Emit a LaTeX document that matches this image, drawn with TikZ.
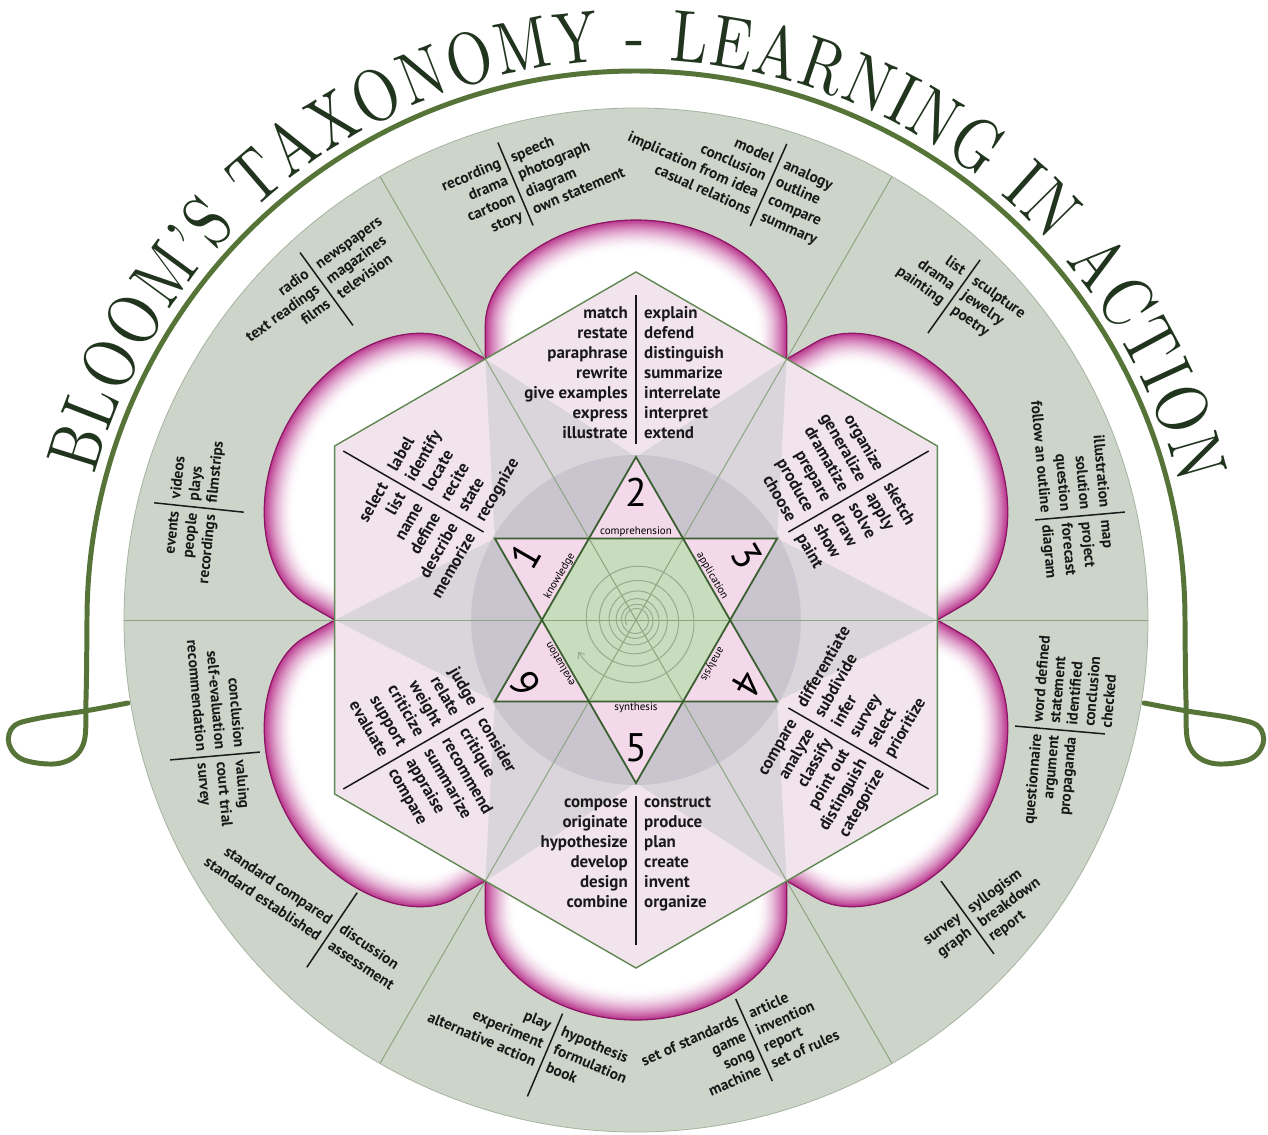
\documentclass[tikz,border=0pt]{standalone}
\usepackage{fontspec}
\newfontfamily\ptsans{PT Sans}
\newfontfamily\titlefont[FakeStretch=0.8, Ligatures=TeX]{lmroman10-regular.otf}
\usetikzlibrary{calc,decorations.text,arrows.meta}

\definecolor{ringfill}{RGB}{205,213,202}
\definecolor{ringedge}{RGB}{165,180,160}
\definecolor{radline}{RGB}{140,165,128}
\definecolor{hexfill}{RGB}{241,228,237}
\definecolor{hexline}{RGB}{95,135,80}
\definecolor{graytri}{RGB}{217,213,218}
\definecolor{graycirc}{RGB}{201,196,205}
\definecolor{starpink}{RGB}{243,217,233}
\definecolor{stargreen}{RGB}{199,221,190}
\definecolor{starline}{RGB}{58,96,48}
\definecolor{petalc}{RGB}{182,44,136}
\definecolor{petaledge}{RGB}{140,22,100}
\definecolor{arcgreen}{RGB}{86,116,56}
\definecolor{titletext}{RGB}{32,52,30}
\definecolor{inktext}{RGB}{25,25,25}
\definecolor{spiralc}{RGB}{150,172,140}

\newcommand\titlefmt{\titlefont\fontsize{74}{74}\selectfont\color{titletext}}

\tikzset{
  innerword/.style={font=\ptsans\bfseries\fontsize{17}{17}\selectfont, text=inktext, inner sep=0pt},
  outerword/.style={font=\ptsans\bfseries\fontsize{15.5}{15.5}\selectfont, text=inktext, inner sep=0pt},
  divider/.style={draw=inktext, line width=1.5},
  numstyle/.style={font=\ptsans\fontsize{40}{40}\selectfont, text=black, inner sep=0pt},
  lblstyle/.style={font=\ptsans\fontsize{11}{11}\selectfont, text=black, inner sep=0pt},
}

% #1 name, #2 style, #3 point, #4 rotation, #5 first offset, #6 step, #7 anchor, #8 side offset, #9 list
\newcommand\wordcol[9]{%
  \foreach \w [count=\i] in {#9}{%
    \pgfmathsetmacro\dd{#5+(\i-1)*(#6)}%
    \node[#2, rotate=#4, anchor=#7] (#1\i) at ($#3+(#4-90:\dd)+(#4:#8)$) {\w};
  }}

% #1 name, #2 point, #3 rotation, #4 first offset, #5 step, #6 left list, #7 right list
\newcommand\outergroup[7]{%
  \coordinate (#1) at #2;
  \draw[divider] ($(#1)+(#3+90:45)$) -- ($(#1)+(#3-90:45)$);
  \wordcol{#1L}{outerword}{(#1)}{#3}{#4}{#5}{base east}{-6}{#6}
  \wordcol{#1R}{outerword}{(#1)}{#3}{#4}{#5}{base west}{6}{#7}
}

\newcommand\petal[1]{%
  \begin{scope}[rotate=#1]
    \fill[white] (-150.7,261) -- (-150.7,295) .. controls (-150.7,345) and (-85,400) .. (0,400) .. controls (85,400) and (150.7,345) .. (150.7,295) -- (150.7,261) -- (0,0) -- cycle;
    \begin{scope}
      \clip (-150.7,261) -- (-150.7,295) .. controls (-150.7,345) and (-85,400) .. (0,400) .. controls (85,400) and (150.7,345) .. (150.7,295) -- (150.7,261) -- (0,0) -- cycle;
      \foreach \i in {0,...,21}{%
        \pgfmathsetmacro\ww{2+60*(1-\i/21)}%
        \pgfmathsetmacro\cc{95*(\i/21)^1.8}%
        \draw[line width=\ww, draw=petalc!\cc!white] (-150.7,261) -- (-150.7,295) .. controls (-150.7,345) and (-85,400) .. (0,400) .. controls (85,400) and (150.7,345) .. (150.7,295) -- (150.7,261);
      }
    \end{scope}
    \draw[petaledge, line width=1.2] (-150.7,261) -- (-150.7,295) .. controls (-150.7,345) and (-85,400) .. (0,400) .. controls (85,400) and (150.7,345) .. (150.7,295) -- (150.7,261);
  \end{scope}}

\begin{document}
\begin{tikzpicture}[x=1bp, y=1bp]
\useasboundingbox (-636,-515) rectangle (632,620);
\fill[white] (-636,-515) rectangle (632,620);

% green arc with loops
\draw[arcgreen, line width=5, line cap=round, line join=round]
  plot[smooth, tension=0.6] coordinates {(-508,-83) (-551,-91) (-596,-98) (-622,-106) (-627,-124) (-612,-140) (-575,-143) (-553,-125) (-550,-80) (-549,0)}
  arc[start angle=180, end angle=0, radius=549]
  plot[smooth, tension=0.6] coordinates {(549,0) (550,-80) (553,-125) (575,-143) (612,-140) (627,-124) (622,-106) (596,-98) (551,-91) (508,-83)};

% title
\path[decorate, decoration={text along path, text={|\titlefmt|BLOOM'S TAXONOMY - LEARNING IN ACTION}, text align={fit to path}}]
  (165:560) arc[start angle=165, end angle=14, radius=560];

% ring
\fill[ringfill] (0,0) circle[radius=512];
\draw[ringedge, line width=0.8] (0,0) circle[radius=512];

% petals
\foreach \r in {0,-60,-120,-180,120,60} { \petal{\r} }

% hexagon and inner fills
\fill[hexfill] (30:348) -- (90:348) -- (150:348) -- (210:348) -- (270:348) -- (330:348) -- cycle;
\foreach \a in {0,60,...,300} { \fill[graytri] (\a:301.4) -- (\a+30:163) -- (\a-30:163) -- cycle; }
\fill[graycirc] (0,0) circle[radius=165];
\fill[starpink] (90:163) -- (210:163) -- (330:163) -- cycle;
\fill[starpink] (270:163) -- (30:163) -- (150:163) -- cycle;
\fill[stargreen] (0:94.1) -- (60:94.1) -- (120:94.1) -- (180:94.1) -- (240:94.1) -- (300:94.1) -- cycle;

% radial lines
\foreach \a in {0,60,120} { \draw[radline, line width=1] (\a:512) -- (\a+180:512); }

% spiral
\draw[spiralc, line width=1, -{Straight Barb[length=5pt,width=8pt]}]
  plot[domain=0:1, samples=300, smooth] ({207+2160*(1-\x)}:{66*pow(1.36,-6*(1-\x))});

% star outline, hexagon outline
\draw[starline, line width=1.8] (90:163) -- (210:163) -- (330:163) -- cycle;
\draw[starline, line width=1.8] (270:163) -- (30:163) -- (150:163) -- cycle;
\draw[hexline, line width=1.4] (30:348) -- (90:348) -- (150:348) -- (210:348) -- (270:348) -- (330:348) -- cycle;

% kite dividers
\foreach \a in {90,-90} { \draw[divider] (\a:176) -- (\a:325); }
\foreach \a in {30,-30,150,-150} { \draw[divider] (\a:176) -- (\a:338); }

% inner kite words
\wordcol{tl}{innerword}{(0,0)}{0}{-301}{20}{base east}{-8}{match,restate,paraphrase,rewrite,give examples,express,illustrate}
\wordcol{tr}{innerword}{(0,0)}{0}{-301}{20}{base west}{8}{explain,defend,distinguish,summarize,interrelate,interpret,extend}
\wordcol{url}{innerword}{(0,0)}{-60}{-281}{20.2}{base east}{-8}{organize,generalize,dramatize,prepare,produce,choose}
\wordcol{urr}{innerword}{(0,0)}{-60}{-281}{20.2}{base west}{8}{sketch,apply,solve,draw,show,paint}
\wordcol{ull}{innerword}{(0,0)}{60}{-281}{20.2}{base east}{-8}{select,list,name,define,describe,memorize}
\wordcol{ulr}{innerword}{(0,0)}{60}{-281}{20.2}{base west}{8}{label,identify,locate,recite,state,recognize}
\wordcol{lrl}{innerword}{(0,0)}{60}{191}{20.2}{base east}{-8}{compare,analyze,classify,point out,distinguish,categorize}
\wordcol{lrr}{innerword}{(0,0)}{60}{191}{20.2}{base west}{8}{differentiate,subdivide,infer,survey,select,prioritize}
\wordcol{bl}{innerword}{(0,0)}{0}{187}{20}{base east}{-8}{compose,originate,hypothesize,develop,design,combine}
\wordcol{br}{innerword}{(0,0)}{0}{187}{20}{base west}{8}{construct,produce,plan,create,invent,organize}
\wordcol{lll}{innerword}{(0,0)}{-60}{188}{20.6}{base east}{-8}{judge,relate,weight,criticize,support,evaluate}
\wordcol{llr}{innerword}{(0,0)}{-60}{188}{20.6}{base west}{8}{consider,critique,recommend,summarize,appraise,compare}

% outer ring groups
\outergroup{gA}{(-120.5,436)}{23}{-20.6}{18.8}{recording,drama,cartoon,story}{speech,photograph,diagram,own statement}
\outergroup{gB}{(132.5,435)}{-24}{-20.5}{18.8}{model,conclusion,implication from idea,casual relations}{analogy,outline,compare,summary}
\outergroup{gC}{(-309.5,331)}{36}{-19.6}{18.3}{radio,text readings,films}{newspapers,magazines,television}
\outergroup{gD}{(-437,112.5)}{84}{-19.5}{18.3}{events,people,recordings}{videos,plays,filmstrips}
\outergroup{gE}{(-421,-136)}{-85}{-20}{19}{conclusion,self-evaluation,recommendation}{valuing,court trial,survey}
\outergroup{gF}{(-304,-310)}{-34}{-2}{20}{standard compared,standard established}{discussion,assessment}
\outergroup{gG}{(-91,-435)}{-23}{-24}{19.5}{play,experiment,alternative action}{hypothesis,formulation,book}
\outergroup{gH}{(118,-420)}{24}{-20.6}{18.3}{set of standards,game,song,machine}{article,invention,report,set of rules}
\outergroup{gI}{(331.5,-297.5)}{36}{-1}{17.8}{survey,graph}{syllogism,breakdown,report}
\outergroup{gJ}{(424,-110)}{85}{-18}{17.3}{questionnaire,argument,propaganda}{word defined,statement,identified,conclusion,checked}
\outergroup{gK}{(318,323.5)}{-35.5}{-21}{18}{list,drama,painting}{sculpture,jewelry,poetry}
\outergroup{gL}{(444,104)}{-85}{-20.5}{19.7}{illustration,solution,question,follow an outline}{map,project,forecast,diagram}

% star numbers and labels
\node[numstyle] (n2) at (90:128) {2};
\node[numstyle, rotate=-60] (n3) at (30:128) {3};
\node[numstyle, rotate=-120] (n4) at (-30:128) {4};
\node[numstyle] (n5) at (-90:128) {5};
\node[numstyle, rotate=120] (n6) at (210:128) {6};
\node[numstyle, rotate=60] (n1) at (150:128) {1};
\node[lblstyle] (lb2) at (90:88) {comprehension};
\node[lblstyle, rotate=-60] (lb3) at (30:88) {application};
\node[lblstyle, rotate=-120] (lb4) at (-30:88) {analysis};
\node[lblstyle] (lb5) at (-90:88) {synthesis};
\node[lblstyle, rotate=120] (lb6) at (210:88) {evaluation};
\node[lblstyle, rotate=60] (lb1) at (150:88) {knowledge};
\end{tikzpicture}
\end{document}
